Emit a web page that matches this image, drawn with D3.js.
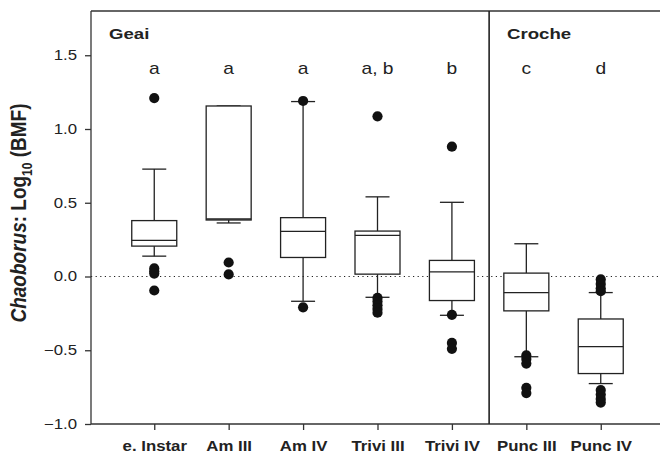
<!DOCTYPE html>
<html><head><meta charset="utf-8">
<script src="https://cdn.jsdelivr.net/npm/d3@7"></script>
<style>body{margin:0;background:#fff}svg{display:block;font-family:"Liberation Sans",Arial,sans-serif}</style>
</head><body><svg id="c" width="660" height="455"></svg>
<script>
const categories = ["e. Instar","Am III","Am IV","Trivi III","Trivi IV","Punc III","Punc IV"];
const whiskerLow  = [0.138, 0.363, -0.168, -0.141, -0.263, -0.544, -0.726];
const q1          = [0.206, 0.383, 0.129, 0.016, -0.163, -0.233, -0.658];
const median      = [0.245, 0.390, 0.306, 0.279, 0.032, -0.109, -0.476];
const q3          = [0.379, 1.156, 0.399, 0.308, 0.109, 0.023, -0.288];
const whiskerHigh = [0.728, 1.156, 1.186, 0.540, 0.503, 0.222, -0.109];
const outliers = [
  [1.21, 0.055, 0.035, 0.02, -0.095],
  [0.095, 0.014],
  [1.19, -0.209],
  [1.086, -0.145, -0.17, -0.195, -0.22, -0.245],
  [0.88, -0.26, -0.45, -0.49],
  [-0.535, -0.56, -0.59, -0.755, -0.79],
  [-0.02, -0.05, -0.08, -0.10, -0.77, -0.80, -0.83, -0.855]
];
const letters = ["a","a","a","a, b","b","c","d"];
const yTicks = [-1.0, -0.5, 0.0, 0.5, 1.0, 1.5];
const groupNames = ["Geai", "Croche"];

const svg = d3.select("#c");
const L = 91, R = 664, T = 11, B = 424;
const SX = 1.2; // horizontal text stretch seen in the reference
const x = d3.scalePoint().domain(categories).range([L, R]).padding(0.85);
const y = d3.scaleLinear().domain([-1, 1.8]).range([B, T]);
const ink = "#222";

function stretch(sel) {
  sel.each(function() {
    const t = d3.select(this);
    const ax = +t.attr("x") || 0;
    t.attr("transform", `translate(${ax},0) scale(${SX},1) translate(${-ax},0)`);
  });
}

// reference line at 0
svg.append("line").attr("x1", L).attr("x2", 660).attr("y1", y(0)).attr("y2", y(0))
  .attr("stroke", ink).attr("stroke-width", 1.2).attr("stroke-dasharray", "1.2,3.4");

// axes
const yAxis = svg.append("g").attr("transform", `translate(${L},0)`)
  .call(d3.axisLeft(y).tickValues(yTicks).tickFormat(d3.format(".1f")).tickSize(6).tickSizeOuter(0).tickPadding(8));
const xAxis = svg.append("g").attr("transform", `translate(0,${B})`)
  .call(d3.axisBottom(x).tickSize(6).tickSizeOuter(0).tickPadding(11));
[yAxis, xAxis].forEach(g => {
  g.selectAll("path,line").attr("stroke", "#333").attr("stroke-width", 1.3);
  g.selectAll("text").attr("fill", "#222").style("font-family", '"Liberation Sans",Arial,sans-serif');
});
yAxis.selectAll("text").style("font-size", "14px").call(stretch);
xAxis.selectAll("text").style("font-size", "14px").style("font-weight", "bold").call(stretch);
xAxis.select(".domain").attr("d", `M${L},0H660`);
yAxis.select(".domain").attr("d", `M0,${B}V${T}`);

// top border and divider
svg.append("line").attr("x1", L).attr("x2", 660).attr("y1", T).attr("y2", T).attr("stroke", "#333").attr("stroke-width", 1.3);
const step = x.step();
const divX = x("Punc III") - step / 2;
svg.append("line").attr("x1", divX).attr("x2", divX).attr("y1", T).attr("y2", B).attr("stroke", "#222").attr("stroke-width", 1.6);

// boxes
const bw = 45, cw = 24;
categories.forEach((c, i) => {
  const cx = x(c);
  const g = svg.append("g").attr("stroke", ink).attr("stroke-width", 1.3).attr("fill", "none");
  g.append("line").attr("x1", cx).attr("x2", cx).attr("y1", y(q3[i])).attr("y2", y(whiskerHigh[i]));
  g.append("line").attr("x1", cx).attr("x2", cx).attr("y1", y(q1[i])).attr("y2", y(whiskerLow[i]));
  g.append("line").attr("x1", cx - cw/2).attr("x2", cx + cw/2).attr("y1", y(whiskerHigh[i])).attr("y2", y(whiskerHigh[i]));
  g.append("line").attr("x1", cx - cw/2).attr("x2", cx + cw/2).attr("y1", y(whiskerLow[i])).attr("y2", y(whiskerLow[i]));
  g.append("rect").attr("x", cx - bw/2).attr("width", bw).attr("y", y(q3[i])).attr("height", y(q1[i]) - y(q3[i])).attr("fill", "#fff");
  g.append("line").attr("x1", cx - bw/2).attr("x2", cx + bw/2).attr("y1", y(median[i])).attr("y2", y(median[i]));
  svg.append("g").selectAll("circle").data(outliers[i]).join("circle")
    .attr("cx", cx).attr("cy", d => y(d)).attr("r", 5.1).attr("fill", "#111");
  svg.append("text").attr("x", cx).attr("y", y(1.37)).attr("text-anchor", "middle")
    .style("font-size", "16px").attr("fill", "#222").text(letters[i]).call(stretch);
});

// group labels
[L, divX].forEach((gx, k) => {
  svg.append("text").attr("x", gx + 18).attr("y", 39)
    .style("font-size", "15.5px").style("font-weight", "bold").attr("fill", "#222").text(groupNames[k]).call(stretch);
});

// y title
const yt = svg.append("text").attr("transform", `translate(26,213) scale(${SX},1) rotate(-90)`)
  .attr("text-anchor", "middle").style("font-size", "19px").style("font-weight", "bold").attr("fill", "#222");
yt.append("tspan").style("font-style", "italic").text("Chaoborus");
yt.append("tspan").text(": Log");
yt.append("tspan").attr("dy", 5).style("font-size", "12px").text("10");
yt.append("tspan").attr("dy", -5).text(" (BMF)");
</script></body></html>
